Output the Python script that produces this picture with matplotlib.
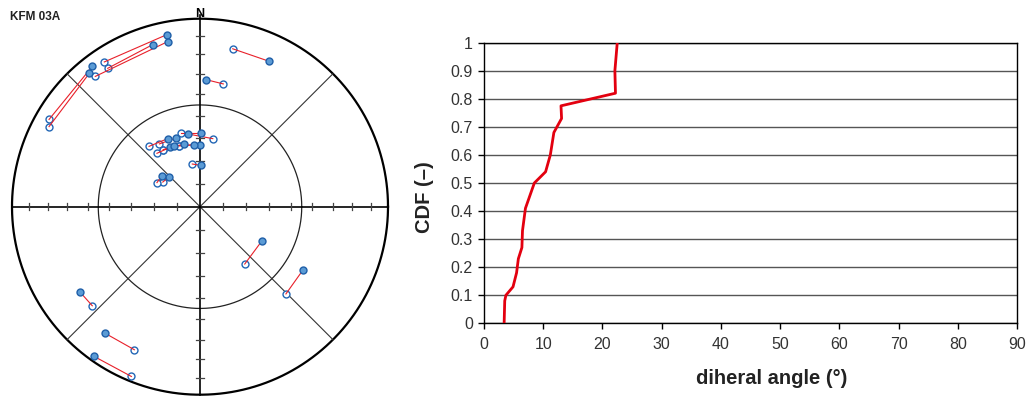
import numpy as np
import matplotlib.pyplot as plt

plt.rcParams['font.family'] = ['Liberation Sans', 'DejaVu Sans']

# stereonet pairs (equal-area projected coords, unit circle): open symbol -> filled symbol
open_u = [-0.509, -0.491, -0.557, -0.803, -0.803, 0.174, 0.124, -0.099, 0.068, -0.271,
          -0.216, -0.229, -0.195, -0.195, -0.112, -0.112, -0.041, -0.198, -0.229,
          0.238, 0.457, -0.573, -0.349, -0.365]
open_v = [0.770, 0.736, 0.693, 0.464, 0.426, 0.840, 0.653, 0.392, 0.362, 0.321,
          0.334, 0.284, 0.303, 0.303, 0.324, 0.324, 0.227, 0.131, 0.128,
          -0.305, -0.464, -0.527, -0.761, -0.903]
fill_u = [-0.177, -0.252, -0.172, -0.573, -0.589, 0.369, 0.032, 0.004, -0.065, -0.172,
          -0.129, -0.161, -0.084, -0.137, 0.000, -0.032, 0.004, -0.165, -0.202,
          0.330, 0.546, -0.638, -0.507, -0.564]
fill_v = [0.915, 0.862, 0.878, 0.746, 0.709, 0.773, 0.676, 0.392, 0.387, 0.362,
          0.365, 0.315, 0.334, 0.321, 0.330, 0.330, 0.220, 0.158, 0.165,
          -0.181, -0.339, -0.454, -0.672, -0.796]
net_ticks = [10, 20, 30, 40, 50, 60, 70, 80]

# CDF of dihedral angle
angle = [3.4, 3.5, 3.7, 4.9, 5.5, 5.8, 6.4, 6.5, 7.0, 8.5, 10.4, 11.2, 11.8, 13.1, 13.0, 22.2, 22.1, 22.5]
cdf = [0.0, 0.08, 0.1, 0.13, 0.18, 0.23, 0.27, 0.33, 0.41, 0.5, 0.54, 0.6, 0.68, 0.73, 0.775, 0.82, 0.9, 1.0]

fig = plt.figure(figsize=(10.29, 3.99), dpi=100)

# ---- stereonet ----
ax1 = fig.add_axes([10/1029, 2.3/399, 380/1029, 380/399])
lim = 190/188
ax1.set_xlim(-lim, lim)
ax1.set_ylim(-lim, lim)
ax1.axis('off')

t = np.linspace(0, 2*np.pi, 400)
ax1.plot(np.cos(t), np.sin(t), color='black', lw=1.6)
r45 = np.sqrt(2)*np.sin(np.radians(45)/2)
ax1.plot(r45*np.cos(t), r45*np.sin(t), color='#222222', lw=0.9)
d = np.sqrt(0.5)
ax1.plot([-d, d], [d, -d], color='#333333', lw=0.8)
ax1.plot([-d, d], [-d, d], color='#333333', lw=0.8)
ax1.plot([-1, 1], [0, 0], color='black', lw=1.2)
ax1.plot([0, 0], [-1, 1.02], color='black', lw=1.2, clip_on=False)
rt = np.sqrt(2)*np.sin(np.radians(net_ticks)/2)
h = 3.6/188
for r in rt:
    for s in (-1, 1):
        ax1.plot([s*r, s*r], [-h, h], color='#444444', lw=0.9)
        ax1.plot([-h, h], [s*r, s*r], color='#444444', lw=0.9)
ax1.text(0, 0.995, 'N', ha='center', va='bottom', fontsize=9, fontweight='bold')

ax1.plot(open_u, open_v, 'o', ms=5, mfc='white', mec='#2266B5', mew=1.0, ls='none', zorder=3)
for i in range(len(open_u)):
    ax1.plot([open_u[i], fill_u[i]], [open_v[i], fill_v[i]], color='#E8202A', lw=0.8, zorder=4)
ax1.plot(fill_u, fill_v, 'o', ms=5, mfc='#5B9BD5', mec='#1F5FA8', mew=1.0, ls='none', zorder=5)

fig.text(10/1029, 1 - 20/399, 'KFM 03A', fontsize=8.5, fontweight='bold', color='#222222')

# ---- CDF ----
ax2 = fig.add_axes([484/1029, 75.7/399, 533/1029, 280.6/399])
ax2.plot(angle, cdf, color='#E3000F', lw=2, zorder=3)
ax2.set_xlim(0, 90)
ax2.set_ylim(0, 1)
ax2.set_xticks(range(0, 91, 10))
ax2.set_yticks(np.arange(0, 1.01, 0.1))
ax2.set_yticklabels(['0', '0.1', '0.2', '0.3', '0.4', '0.5', '0.6', '0.7', '0.8', '0.9', '1'])
ax2.grid(axis='y', color='#555555', lw=1.0)
ax2.tick_params(axis='both', direction='out', length=4.5, width=1, labelsize=11.5, labelcolor='#333333')
ax2.tick_params(axis='x', pad=5.5)
for sp in ax2.spines.values():
    sp.set_linewidth(1.0)
ax2.set_xlabel('diheral angle (°)', fontsize=14.5, fontweight='bold', color='#222222', va='top')
ax2.xaxis.set_label_coords(0.54, -0.163)
ax2.set_ylabel('CDF (–)', fontsize=14.5, fontweight='bold', color='#222222', va='center')
ax2.yaxis.set_label_coords(-0.111, 0.448)

fig.savefig('out.png', dpi=100)
